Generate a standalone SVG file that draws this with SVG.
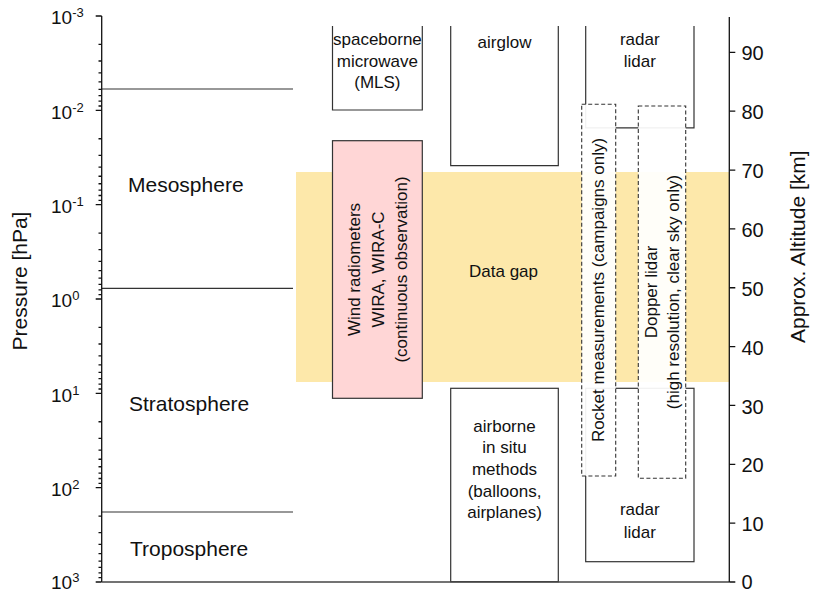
<svg xmlns="http://www.w3.org/2000/svg" width="813" height="591" viewBox="0 0 813 591">
<style>
text{font-family:"Liberation Sans",Arial,sans-serif;fill:#111}
.lbl{font-size:17px;text-anchor:middle}
.layer{font-size:21px}
.tick{font-size:19px}
.rtick{font-size:20px}
.box{fill:#fff;stroke:#333;stroke-width:1.2}
.open{fill:#fff;stroke:#333;stroke-width:1.2}
.dash{fill:#fff;fill-opacity:0.93;stroke:#333;stroke-width:1.1;stroke-dasharray:4 2.5}
.ax{stroke:#111;stroke-width:1.3;fill:none}
.grid{stroke:#333;stroke-width:1.2;fill:none}
</style>
<rect width="813" height="591" fill="#fff"/>

<g id="layers">
<path class="grid" d="M102 89H293M102 288.3H293M102 512H293"/>
<text class="layer" x="128" y="192">Mesosphere</text>
<text class="layer" x="129" y="410.7">Stratosphere</text>
<text class="layer" x="130" y="555.7">Troposphere</text>
</g>

<g id="data-gap">
<rect x="296" y="172" width="433" height="210" fill="#fde8aa"/>
<text class="lbl" x="503.5" y="276.7">Data gap</text>
</g>

<g id="spaceborne">
<path class="open" d="M332.5 26V110H422.3V26"/>
<text class="lbl" x="377.4" y="45">spaceborne</text>
<text class="lbl" x="377.4" y="66.7">microwave</text>
<text class="lbl" x="377.4" y="88.3">(MLS)</text>
</g>

<g id="wind-radiometers">
<rect x="332.5" y="140.7" width="89.8" height="257.6" fill="#ffd6d6" stroke="#333" stroke-width="1.2"/>
<g transform="translate(0,269.5) rotate(-90)">
<text class="lbl" x="0" y="360">Wind radiometers</text>
<text class="lbl" x="0" y="383.5">WIRA, WIRA-C</text>
<text class="lbl" x="0" y="407">(continuous observation)</text>
</g>
</g>

<g id="airglow">
<path class="open" d="M450.7 26V165.7H558.3V26"/>
<text class="lbl" x="504.5" y="48.3">airglow</text>
</g>

<g id="airborne">
<rect class="box" x="450.7" y="388.3" width="107.6" height="193.4"/>
<text class="lbl" x="504.5" y="431.7">airborne</text>
<text class="lbl" x="504.5" y="453.3">in situ</text>
<text class="lbl" x="504.5" y="475">methods</text>
<text class="lbl" x="504.5" y="496.7">(balloons,</text>
<text class="lbl" x="504.5" y="518.3">airplanes)</text>
</g>

<g id="radar-lidar-upper">
<path class="open" d="M585.7 26V127.8H694V26"/>
<text class="lbl" x="639.8" y="45">radar</text>
<text class="lbl" x="639.8" y="66.7">lidar</text>
</g>

<g id="radar-lidar-lower">
<rect class="box" x="585.7" y="388.3" width="108.3" height="173.4"/>
<text class="lbl" x="639.8" y="515">radar</text>
<text class="lbl" x="639.8" y="538.3">lidar</text>
</g>

<g id="rocket">
<rect class="dash" x="581.7" y="104.3" width="34" height="371.7"/>
<text class="lbl" transform="translate(0,290) rotate(-90)" x="0" y="604">Rocket measurements (campaigns only)</text>
</g>

<g id="doppler-lidar">
<rect class="dash" x="638.3" y="106" width="47.4" height="372.3"/>
<g transform="translate(0,292) rotate(-90)">
<text class="lbl" x="0" y="657">Dopper lidar</text>
<text class="lbl" x="0" y="678.5">(high resolution, clear sky only)</text>
</g>
</g>

<g id="connectors"></g>

<g id="axes">
<path class="ax" d="M101.7 16V582"/>
<path d="M102 582H729.3" stroke="#444" stroke-width="1.3"/>
<path class="ax" d="M729.3 17V582"/>
<path class="ax" stroke-width="1" d="M95.7 16H101.7M95.7 110.33H101.7M95.7 204.67H101.7M95.7 299H101.7M95.7 393.33H101.7M95.7 487.67H101.7M95.7 582H101.7"/>
<path class="ax" stroke-width="0.9" d="M98.5 44.4H101.7M98.5 61.01H101.7M98.5 72.79H101.7M98.5 81.93H101.7M98.5 89.4H101.7M98.5 95.72H101.7M98.5 101.19H101.7M98.5 106.02H101.7
M98.5 138.73H101.7M98.5 155.34H101.7M98.5 167.12H101.7M98.5 176.26H101.7M98.5 183.73H101.7M98.5 190.05H101.7M98.5 195.52H101.7M98.5 200.35H101.7
M98.5 233.07H101.7M98.5 249.68H101.7M98.5 261.46H101.7M98.5 270.6H101.7M98.5 278.07H101.7M98.5 284.39H101.7M98.5 289.86H101.7M98.5 294.69H101.7
M98.5 327.4H101.7M98.5 344.01H101.7M98.5 355.79H101.7M98.5 364.93H101.7M98.5 372.4H101.7M98.5 378.72H101.7M98.5 384.19H101.7M98.5 389.02H101.7
M98.5 421.73H101.7M98.5 438.34H101.7M98.5 450.12H101.7M98.5 459.26H101.7M98.5 466.73H101.7M98.5 473.05H101.7M98.5 478.52H101.7M98.5 483.35H101.7
M98.5 516.07H101.7M98.5 532.68H101.7M98.5 544.46H101.7M98.5 553.6H101.7M98.5 561.07H101.7M98.5 567.39H101.7M98.5 572.86H101.7M98.5 577.69H101.7"/>
<path class="ax" stroke-width="1" d="M729.3 52.35H735.3M729.3 111.2H735.3M729.3 170.05H735.3M729.3 228.9H735.3M729.3 287.75H735.3M729.3 346.6H735.3M729.3 405.45H735.3M729.3 464.3H735.3M729.3 523.15H735.3M729.3 582H735.3"/>
<text class="tick" x="51" y="24.3">10<tspan font-size="13" dy="-7">-3</tspan></text>
<text class="tick" x="51" y="118.6">10<tspan font-size="13" dy="-7">-2</tspan></text>
<text class="tick" x="51" y="213">10<tspan font-size="13" dy="-7">-1</tspan></text>
<text class="tick" x="51" y="307.3">10<tspan font-size="13" dy="-7">0</tspan></text>
<text class="tick" x="51" y="401.6">10<tspan font-size="13" dy="-7">1</tspan></text>
<text class="tick" x="51" y="496">10<tspan font-size="13" dy="-7">2</tspan></text>
<text class="tick" x="51" y="588.5">10<tspan font-size="13" dy="-7">3</tspan></text>
<text class="rtick" x="741.5" y="60.4">90</text>
<text class="rtick" x="741.5" y="119.3">80</text>
<text class="rtick" x="741.5" y="178.1">70</text>
<text class="rtick" x="741.5" y="237">60</text>
<text class="rtick" x="741.5" y="295.8">50</text>
<text class="rtick" x="741.5" y="354.7">40</text>
<text class="rtick" x="741.5" y="413.5">30</text>
<text class="rtick" x="741.5" y="472.4">20</text>
<text class="rtick" x="741.5" y="531.2">10</text>
<text class="rtick" x="741.5" y="588.5">0</text>
<text font-size="21" text-anchor="middle" transform="translate(27,281) rotate(-90)">Pressure [hPa]</text>
<text font-size="21" text-anchor="middle" transform="translate(805,246.7) rotate(-90)">Approx. Altitude [km]</text>
</g>
</svg>
